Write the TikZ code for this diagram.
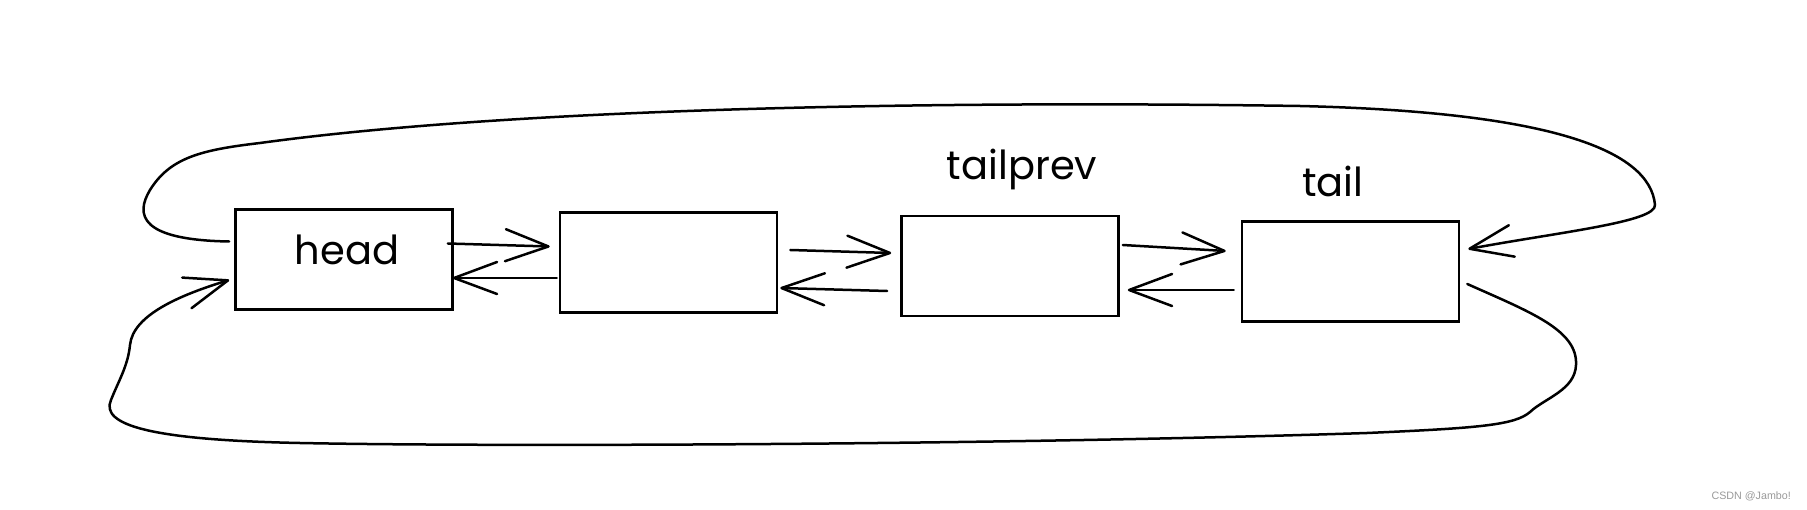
\documentclass[tikz,border=0pt]{standalone}
\usepackage{fontspec}
\setmainfont{Poppins}
\newfontfamily\wmfont{Liberation Sans}
\usetikzlibrary{arrows.meta}
\begin{document}
\begin{tikzpicture}[x=1pt,y=-1pt,
  nodebox/.style={draw=black, line width=2.6pt, inner sep=0pt, minimum width=217pt, minimum height=100pt},
  lbl/.style={font=\fontsize{40}{48}\selectfont, inner sep=0pt, anchor=base},
  link/.style={line width=2.5pt, line cap=round, line join=round, -{Straight Barb[length=43pt,width=32pt,round]}},
  wm/.style={font=\wmfont\fontsize{10.7}{12}\selectfont, text=black!40, inner sep=0pt}]
\useasboundingbox (0,0) rectangle (1807,510);

% boxes
\node[nodebox] (h)  at (344,259.5) {};
\node[nodebox] (b2) at (668.5,262.5) {};
\node[nodebox] (b3) at (1010,266) {};
\node[nodebox] (t)  at (1350.5,271.5) {};

% labels
\node[lbl] (hl) at ([shift={(3,5.5)}]h.center) {head};
\node[lbl] (tpl) at (1022,180) {tailprev};
\node[lbl] (tl) at (1333,197) {tail};

% links between neighbours
\draw[link] ([shift={(-6,-16)}]h.east) -- ([shift={(-9,-16)}]b2.west);
\draw[link] ([shift={(-2,15.5)}]b2.west) -- ([shift={(-1,18.5)}]h.east);
\draw[link] ([shift={(12,-12.5)}]b2.east) -- ([shift={(-9,-13)}]b3.west);
\draw[link] ([shift={(-13,25)}]b3.west) -- ([shift={(2,25.5)}]b2.east);
\draw[link] ([shift={(3,-21)}]b3.east) -- ([shift={(-15,-20.5)}]t.west);
\draw[link] ([shift={(-7,18.5)}]t.west) -- ([shift={(8,24)}]b3.east);

% top loop: head -> tail
\draw[link] ([shift={(-5,-18)}]h.west)
  .. controls (140,240) and (135,215) .. (150,190)
  .. controls (170,158) and (200,150) .. (260,143)
  .. controls (500,110) and (900,100) .. (1300,106)
  .. controls (1550,112) and (1650,150) .. (1655,205)
  .. controls (1656,222) and (1560,232) .. ([shift={(8,-22.5)}]t.east);

% bottom loop: tail -> head
\draw[link] ([shift={(7,12.5)}]t.east)
  .. controls (1530,312) and (1578,330) .. (1576,365)
  .. controls (1575,390) and (1545,398) .. (1530,412)
  .. controls (1515,425) and (1480,428) .. (1367,433)
  .. controls (1000,445) and (500,447) .. (300,443)
  .. controls (150,440) and (100,425) .. (111,400)
  .. controls (118,382) and (128,366) .. (130,345)
  .. controls (133,315) and (180,295) .. ([shift={(-5,20.5)}]h.west);

% watermark
\node[wm, anchor=east] (wmk) at (1791,496) {CSDN @Jambo!};
\end{tikzpicture}
\end{document}
